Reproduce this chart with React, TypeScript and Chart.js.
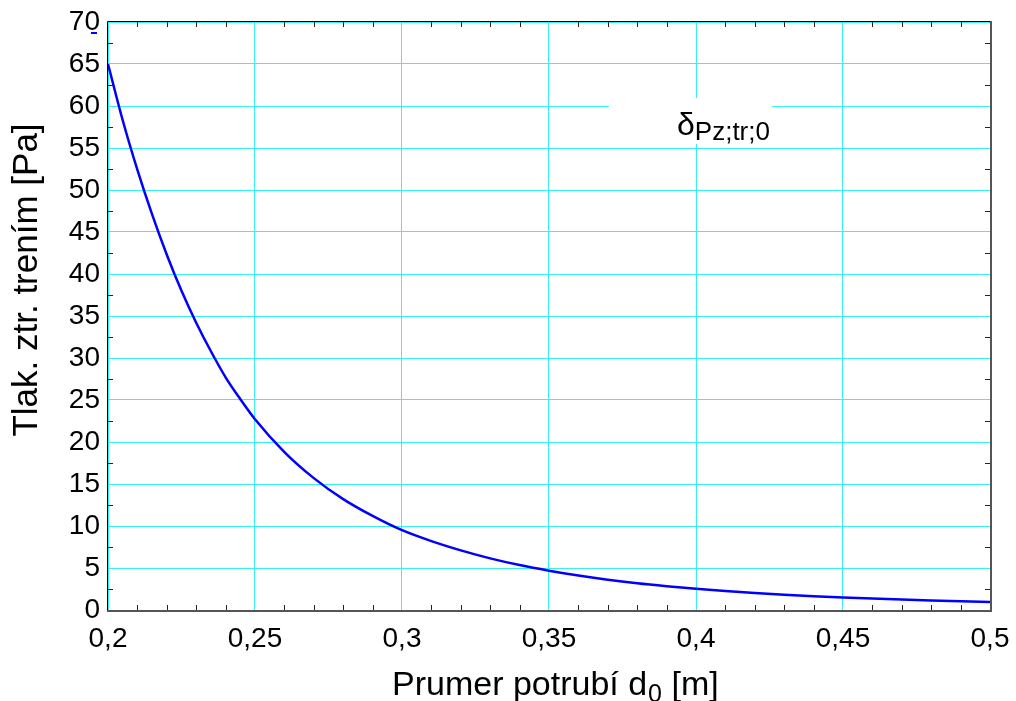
import React, { useEffect, useRef } from "react";
import { Chart, registerables } from "chart.js";

Chart.register(...registerables);

// Pipe diameter d0 [m]
const diameters = [
  0.2, 0.205, 0.21, 0.215, 0.22, 0.225, 0.23, 0.235, 0.24, 0.245, 0.25, 0.26,
  0.27, 0.28, 0.29, 0.3, 0.31, 0.32, 0.33, 0.34, 0.35, 0.36, 0.37, 0.38, 0.39,
  0.4, 0.41, 0.42, 0.43, 0.44, 0.45, 0.46, 0.47, 0.48, 0.49, 0.5,
];
// Friction pressure loss [Pa]
const pressureLoss = [
  65.0, 58.3, 52.4, 47.1, 42.3, 38.0, 34.2, 30.8, 27.7, 25.1, 22.7, 18.8,
  15.7, 13.2, 11.2, 9.5, 8.2, 7.1, 6.15, 5.35, 4.68, 4.1, 3.6, 3.18, 2.83,
  2.52, 2.25, 2.02, 1.82, 1.65, 1.5, 1.36, 1.24, 1.13, 1.03, 0.94,
];

const xMin = 0.2;
const xMax = 0.5;
const xStep = 0.05;
const yMin = 0;
const yMax = 70;
const yStep = 5;

const xTitleMain = "Prumer potrubí d";
const xTitleSub = "0";
const xTitleEnd = " [m]";
const yTitle = "Tlak. ztr. trením [Pa]";
const legendSymbol = "δ";
const legendSub = "Pz;tr;0";

const FONT = "'Liberation Sans', Arial, sans-serif";
const GRID = "#38F0F0";

const decorPlugin = {
  id: "decor",
  beforeDatasetsDraw(chart: any) {
    const ctx = chart.ctx;
    ctx.save();
    ctx.fillStyle = "#ffffff";
    ctx.fillRect(609, 98, 163, 46);
    ctx.restore();
  },
  afterDatasetsDraw(chart: any) {
    const ctx = chart.ctx;
    const { left, right, top, bottom } = chart.chartArea;
    const xs = chart.scales.x;
    const ys = chart.scales.y;
    ctx.save();
    // minor ticks
    ctx.strokeStyle = "#222";
    ctx.lineWidth = 1;
    ctx.beginPath();
    for (let i = 1; i < 30; i++) {
      if (i % 5 === 0) continue;
      const px = Math.round(xs.getPixelForValue(xMin + i * 0.01)) + 0.5;
      ctx.moveTo(px, top);
      ctx.lineTo(px, top + 5);
      ctx.moveTo(px, bottom);
      ctx.lineTo(px, bottom - 5);
    }
    for (let v = 2.5; v < yMax; v += 5) {
      const py = Math.round(ys.getPixelForValue(v)) + 0.5;
      ctx.moveTo(left, py);
      ctx.lineTo(left + 5, py);
      ctx.moveTo(right, py);
      ctx.lineTo(right - 5, py);
    }
    ctx.stroke();
    // frame
    ctx.strokeStyle = "#000";
    ctx.lineWidth = 1;
    ctx.beginPath();
    ctx.moveTo(Math.round(left) - 0.5, bottom);
    ctx.lineTo(Math.round(left) - 0.5, Math.round(top) - 0.5);
    ctx.lineTo(right, Math.round(top) - 0.5);
    ctx.stroke();
    ctx.strokeStyle = "#555";
    ctx.lineWidth = 2;
    ctx.beginPath();
    ctx.moveTo(Math.round(right) + 1, Math.round(top) - 1);
    ctx.lineTo(Math.round(right) + 1, Math.round(bottom) + 1);
    ctx.lineTo(Math.round(left) - 1, Math.round(bottom) + 1);
    ctx.stroke();
    // legend text
    ctx.fillStyle = "#000";
    ctx.textBaseline = "alphabetic";
    ctx.textAlign = "left";
    ctx.font = `32px ${FONT}`;
    ctx.fillText(legendSymbol, 677, 135);
    const dw = ctx.measureText(legendSymbol).width;
    ctx.font = `26px ${FONT}`;
    ctx.fillText(legendSub, 677 + dw, 140);
    // small blue mark
    ctx.strokeStyle = "#0000ff";
    ctx.lineWidth = 2;
    ctx.beginPath();
    ctx.moveTo(91, 33);
    ctx.lineTo(97, 33);
    ctx.stroke();
    // x title
    ctx.font = `34px ${FONT}`;
    let x = 392;
    ctx.fillText(xTitleMain, x, 695);
    x += ctx.measureText(xTitleMain).width;
    ctx.font = `25px ${FONT}`;
    ctx.fillText(xTitleSub, x + 1, 702);
    x += ctx.measureText(xTitleSub).width + 1;
    ctx.font = `34px ${FONT}`;
    ctx.fillText(xTitleEnd, x, 695);
    // y title
    ctx.translate(37, 280);
    ctx.rotate(-Math.PI / 2);
    ctx.textAlign = "center";
    ctx.font = `35px ${FONT}`;
    ctx.fillText(yTitle, 0, 0);
    ctx.restore();
  },
};

export default function App() {
  const ref = useRef<HTMLCanvasElement | null>(null);
  useEffect(() => {
    if (!ref.current) return;
    const chart = new Chart(ref.current, {
      type: "line",
      data: {
        datasets: [
          {
            data: diameters.map((d, i) => ({ x: d, y: pressureLoss[i] })),
            borderColor: "#0000ff",
            borderWidth: 2.5,
            pointRadius: 0,
            fill: false,
            cubicInterpolationMode: "monotone",
          },
        ],
      },
      options: {
        responsive: false,
        animation: false,
        layout: { padding: { top: 22, right: 26, left: 0, bottom: 0 } },
        plugins: { legend: { display: false }, tooltip: { enabled: false } },
        scales: {
          x: {
            type: "linear",
            min: xMin,
            max: xMax,
            grid: { color: GRID, lineWidth: 1, drawTicks: false },
            border: { display: false },
            ticks: {
              stepSize: xStep,
              autoSkip: false,
              maxRotation: 0,
              padding: 12,
              color: "#000",
              font: { size: 28, family: FONT },
              callback: (v: any) =>
                String(Math.round(Number(v) * 100) / 100).replace(".", ","),
            },
            afterFit: (s: any) => {
              s.height = 91;
              s.paddingLeft = 0;
              s.paddingRight = 0;
            },
          },
          y: {
            min: yMin,
            max: yMax,
            grid: { color: GRID, lineWidth: 1, drawTicks: false },
            border: { display: false },
            ticks: {
              stepSize: yStep,
              padding: 8,
              color: "#000",
              font: { size: 28, family: FONT },
            },
            afterFit: (s: any) => {
              s.width = 108;
              s.paddingTop = 0;
              s.paddingBottom = 0;
            },
          },
        },
      },
      plugins: [decorPlugin],
    });
    return () => chart.destroy();
  }, []);
  return (
    <div style={{ position: "absolute", left: 0, top: 0, width: 1016, height: 701, background: "#fff" }}>
      <canvas ref={ref} width={1016} height={701} />
    </div>
  );
}
